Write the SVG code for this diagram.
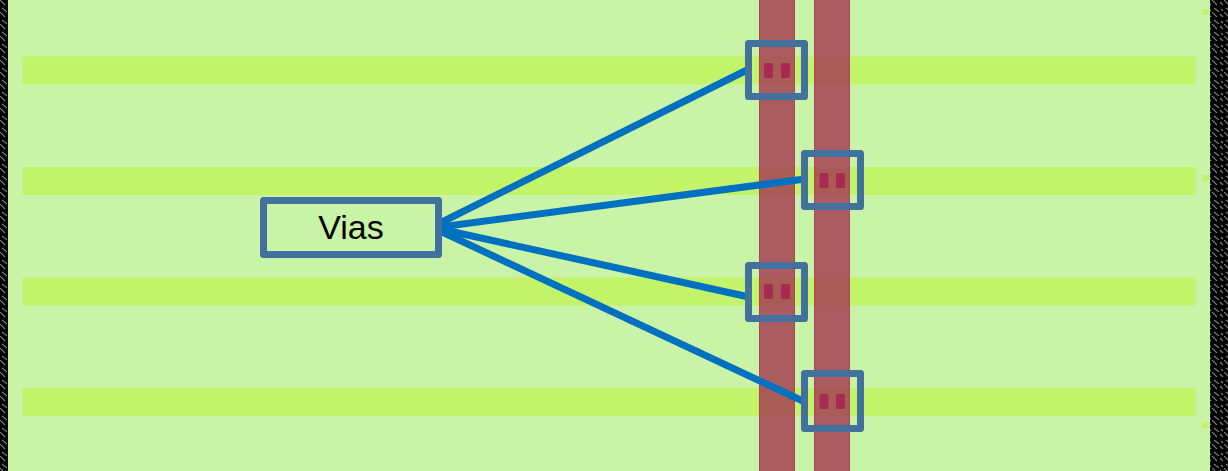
<svg xmlns="http://www.w3.org/2000/svg" width="1228" height="471" viewBox="0 0 1228 471">
<defs>
<pattern id="hatch" width="12" height="12" patternUnits="userSpaceOnUse">
<rect width="12" height="12" fill="#000"/>
<path d="M0 0L5 5M8 2L11 5M2 8L7 12M9 9L11 11" stroke="#808080" stroke-width="1.1" fill="none"/>
</pattern>
</defs>
<style>
.bar{fill:#c3f368}
.metal{fill:#a33a52;fill-opacity:.82;stroke:#b5405c;stroke-width:1}
.pad{fill:#a82a50}
.box{fill:none;stroke:#41719c;stroke-width:7;stroke-linejoin:round}
.wire{stroke:#0070c0;stroke-width:7;fill:none}
.dot{fill:#c3f368}
text{font-family:"Liberation Sans",Arial,sans-serif;font-size:34px;fill:#000}
</style>
<rect width="1228" height="471" fill="#c9f3a6"/>
<rect x="0" y="0" width="8" height="471" fill="url(#hatch)"/>
<rect x="1210" y="0" width="18" height="471" fill="url(#hatch)"/>
<g id="bars">
<rect class="bar" x="22.5" y="56.5" width="1173" height="28"/>
<rect class="bar" x="22.5" y="167" width="1173" height="28"/>
<rect class="bar" x="22.5" y="277.5" width="1173" height="28"/>
<rect class="bar" x="22.5" y="388" width="1173" height="28"/>
<rect class="dot" x="1202" y="9" width="7" height="6"/>
<rect class="dot" x="1202" y="175" width="7" height="6"/>
<rect class="dot" x="1202" y="422" width="7" height="6"/>
</g>
<g id="metal">
<rect class="metal" x="759.5" y="-2" width="35" height="475"/>
<rect class="metal" x="814.5" y="-2" width="35" height="475"/>
</g>
<g id="connectors">
<line class="wire" x1="440" y1="223" x2="749" y2="69"/>
<line class="wire" x1="440" y1="227" x2="805" y2="179"/>
<line class="wire" x1="440" y1="229" x2="749" y2="297"/>
<line class="wire" x1="440" y1="231" x2="805" y2="402"/>
</g>
<g id="via1">
<rect class="pad" x="764" y="63" width="9" height="15" rx="1.5"/><rect class="pad" x="781" y="63" width="9" height="15" rx="1.5"/>
<rect class="box" x="748.5" y="43.5" width="56" height="53"/>
</g>
<g id="via2">
<rect class="pad" x="819.5" y="173" width="9" height="15" rx="1.5"/><rect class="pad" x="836" y="173" width="9" height="15" rx="1.5"/>
<rect class="box" x="804.5" y="153.5" width="56" height="53"/>
</g>
<g id="via3">
<rect class="pad" x="764" y="284" width="9" height="15" rx="1.5"/><rect class="pad" x="781" y="284" width="9" height="15" rx="1.5"/>
<rect class="box" x="748.5" y="265.5" width="56" height="53"/>
</g>
<g id="via4">
<rect class="pad" x="819.5" y="394" width="9" height="15" rx="1.5"/><rect class="pad" x="836" y="394" width="9" height="15" rx="1.5"/>
<rect class="box" x="804.5" y="373.5" width="56" height="55"/>
</g>
<g id="vias-label">
<rect class="box" x="263.5" y="200.5" width="175" height="54"/>
<text x="351" y="239" text-anchor="middle">Vias</text>
</g>
</svg>
